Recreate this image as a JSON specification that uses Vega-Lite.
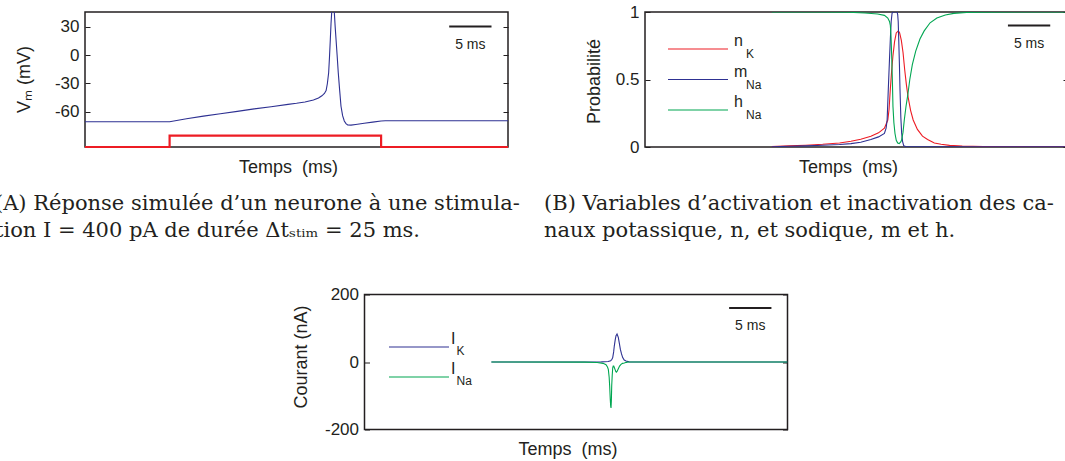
{
  "$schema": "https://vega.github.io/schema/vega-lite/v6.json",
  "padding": {"left": -6, "top": 2, "right": 0, "bottom": 0},
  "config": {
    "font": "Liberation Sans",
    "view": {"stroke": "#231F20", "strokeWidth": 1.5},
    "axis": {"grid": false, "labelColor": "#231F20", "titleColor": "#231F20", "tickColor": "#231F20", "titleFontWeight": "normal", "labelFontSize": 17, "titleFontSize": 18},
    "legend": {"labelColor": "#231F20", "padding": 0},
    "title": {"font": "DejaVu Serif", "fontSize": 21, "fontWeight": "normal", "color": "#231F20", "lineHeight": 27, "orient": "bottom", "anchor": "start", "frame": "group"}
  },
  "spacing": 42.5,
  "resolve": {"scale": {"color": "independent", "opacity": "independent"}},
  "vconcat": [
    {
      "hconcat": [
        {
          "width": 423, "height": 135,
          "title": {"text": ["(A) Réponse simulée d’un neurone à une stimula-", "tion I = 400 pA de durée Δtₛₜᵢₘ = 25 ms."], "dx": -90, "offset": 17},
          "layer": [
            {
              "layer": [
                {
                  "data": {"values": [
                    {"t": 0, "v": -70.4}, {"t": 10, "v": -70.4}, {"t": 12, "v": -67.2}, {"t": 14, "v": -64.4}, {"t": 16, "v": -61.9}, {"t": 18, "v": -59.4}, {"t": 20, "v": -56.8}, {"t": 22, "v": -54.5}, {"t": 24, "v": -52}, {"t": 25, "v": -50.9}, {"t": 26, "v": -49.6}, {"t": 27, "v": -47.5}, {"t": 27.6, "v": -45.3}, {"t": 28, "v": -43}, {"t": 28.3, "v": -40.5}, {"t": 28.5, "v": -37.5}, {"t": 28.65, "v": -30}, {"t": 28.8, "v": -18.7}, {"t": 28.9, "v": -2}, {"t": 29, "v": 17}, {"t": 29.08, "v": 33}, {"t": 29.16, "v": 45}, {"t": 29.3, "v": 52}, {"t": 29.4, "v": 50}, {"t": 29.47, "v": 45}, {"t": 29.57, "v": 30}, {"t": 29.67, "v": 17}, {"t": 29.8, "v": 0}, {"t": 29.94, "v": -19}, {"t": 30.1, "v": -37}, {"t": 30.26, "v": -54}, {"t": 30.45, "v": -64}, {"t": 30.65, "v": -69.6}, {"t": 30.85, "v": -72.3}, {"t": 31.05, "v": -73.8}, {"t": 31.44, "v": -73.9}, {"t": 32, "v": -73.2}, {"t": 33, "v": -72}, {"t": 34, "v": -70.8}, {"t": 35, "v": -69.6}, {"t": 35.5, "v": -69.3}, {"t": 50, "v": -69.3}
                  ]},
                  "mark": {"type": "line", "color": "#2E3192", "strokeWidth": 1.1, "clip": true},
                  "encoding": {
                    "x": {"field": "t", "type": "quantitative", "scale": {"domain": [0, 50], "nice": false, "zero": false}, "axis": {"title": "Temps\u00a0 (ms)", "labels": false, "ticks": false, "domain": false, "titleX": 203, "titleY": 11, "titleBaseline": "top", "minExtent": 0}},
                    "y": {"field": "v", "type": "quantitative", "scale": {"domain": [-97, 45.4], "nice": false, "zero": false}, "axis": {"values": [-60, -30, 0, 30], "title": "Vₘ (mV)", "titleX": -61, "titleY": 67, "titleBaseline": "middle", "tickSize": -5, "labelPadding": 11, "domain": false, "labelExpr": "datum.value < 0 ? '-' + abs(datum.value) : '' + datum.value"}}
                  }
                },
                {
                  "data": {"values": [{"t": 43.05, "t2": 48.05, "tm": 45.55, "v": 30, "label": "5 ms"}]},
                  "mark": {"type": "rule", "color": "#231F20", "strokeWidth": 2},
                  "encoding": {
                    "x": {"field": "t", "type": "quantitative"},
                    "x2": {"field": "t2"},
                    "y": {"field": "v", "type": "quantitative", "axis": {"orient": "right", "values": [-60, -30, 0, 30], "labels": false, "title": null, "tickSize": -5, "domain": false}}
                  }
                },
                {
                  "data": {"values": [{"t": 43.05, "t2": 48.05, "tm": 45.55, "v": 30, "label": "5 ms"}]},
                  "mark": {"type": "text", "dy": 18, "fontSize": 14, "color": "#231F20"},
                  "encoding": {
                    "x": {"field": "tm", "type": "quantitative"},
                    "y": {"field": "v", "type": "quantitative", "axis": null},
                    "text": {"field": "label"}
                  }
                }
              ],
              "resolve": {"axis": {"y": "independent"}}
            },
            {
              "data": {"values": [{"t": 0, "i": 0}, {"t": 10, "i": 0}, {"t": 10, "i": 400}, {"t": 35, "i": 400}, {"t": 35, "i": 0}, {"t": 50, "i": 0}]},
              "mark": {"type": "line", "color": "#ED1C24", "strokeWidth": 2.2},
              "encoding": {
                "x": {"field": "t", "type": "quantitative"},
                "y": {"field": "i", "type": "quantitative", "scale": {"domain": [0, 4737], "nice": false}, "axis": null},
                "order": {"value": null}
              }
            }
          ],
          "resolve": {"scale": {"y": "independent"}}
        },
        {
          "width": 423, "height": 135,
          "title": {"text": ["(B) Variables d’activation et inactivation des ca-", "naux potassique, n, et sodique, m et h."], "dx": -101, "offset": 17},
          "layer": [
            {
              "data": {"values": [
                {"t": 15, "var": "nK", "p": 0.004}, {"t": 17, "var": "nK", "p": 0.008}, {"t": 19, "var": "nK", "p": 0.013}, {"t": 21, "var": "nK", "p": 0.02}, {"t": 23, "var": "nK", "p": 0.03}, {"t": 24.35, "var": "nK", "p": 0.042}, {"t": 25.5, "var": "nK", "p": 0.058}, {"t": 26.7, "var": "nK", "p": 0.08}, {"t": 27.6, "var": "nK", "p": 0.105}, {"t": 28.3, "var": "nK", "p": 0.14}, {"t": 28.7, "var": "nK", "p": 0.2}, {"t": 28.85, "var": "nK", "p": 0.28}, {"t": 29, "var": "nK", "p": 0.43}, {"t": 29.15, "var": "nK", "p": 0.56}, {"t": 29.3, "var": "nK", "p": 0.67}, {"t": 29.5, "var": "nK", "p": 0.78}, {"t": 29.7, "var": "nK", "p": 0.845}, {"t": 29.95, "var": "nK", "p": 0.86}, {"t": 30.1, "var": "nK", "p": 0.845}, {"t": 30.3, "var": "nK", "p": 0.79}, {"t": 30.5, "var": "nK", "p": 0.7}, {"t": 30.7, "var": "nK", "p": 0.57}, {"t": 30.9, "var": "nK", "p": 0.46}, {"t": 31.1, "var": "nK", "p": 0.37}, {"t": 31.4, "var": "nK", "p": 0.27}, {"t": 31.7, "var": "nK", "p": 0.2}, {"t": 32.2, "var": "nK", "p": 0.13}, {"t": 32.8, "var": "nK", "p": 0.08}, {"t": 33.4, "var": "nK", "p": 0.055}, {"t": 34.2, "var": "nK", "p": 0.03}, {"t": 35, "var": "nK", "p": 0.02}, {"t": 36, "var": "nK", "p": 0.012}, {"t": 37.5, "var": "nK", "p": 0.007}, {"t": 40, "var": "nK", "p": 0.004}, {"t": 45, "var": "nK", "p": 0.002}, {"t": 50, "var": "nK", "p": 0.001},
                {"t": 15, "var": "mNa", "p": 0.002}, {"t": 17, "var": "mNa", "p": 0.005}, {"t": 19, "var": "mNa", "p": 0.008}, {"t": 21, "var": "mNa", "p": 0.013}, {"t": 23, "var": "mNa", "p": 0.019}, {"t": 24.35, "var": "mNa", "p": 0.025}, {"t": 25.5, "var": "mNa", "p": 0.035}, {"t": 26.7, "var": "mNa", "p": 0.055}, {"t": 27.6, "var": "mNa", "p": 0.075}, {"t": 28.3, "var": "mNa", "p": 0.1}, {"t": 28.5, "var": "mNa", "p": 0.14}, {"t": 28.62, "var": "mNa", "p": 0.2}, {"t": 28.76, "var": "mNa", "p": 0.43}, {"t": 28.9, "var": "mNa", "p": 0.65}, {"t": 29, "var": "mNa", "p": 0.8}, {"t": 29.1, "var": "mNa", "p": 0.93}, {"t": 29.2, "var": "mNa", "p": 0.99}, {"t": 29.3, "var": "mNa", "p": 1}, {"t": 29.8, "var": "mNa", "p": 1}, {"t": 29.87, "var": "mNa", "p": 0.98}, {"t": 29.93, "var": "mNa", "p": 0.93}, {"t": 29.99, "var": "mNa", "p": 0.8}, {"t": 30.07, "var": "mNa", "p": 0.62}, {"t": 30.14, "var": "mNa", "p": 0.43}, {"t": 30.24, "var": "mNa", "p": 0.22}, {"t": 30.34, "var": "mNa", "p": 0.1}, {"t": 30.45, "var": "mNa", "p": 0.04}, {"t": 30.58, "var": "mNa", "p": 0.01}, {"t": 30.8, "var": "mNa", "p": 0.003}, {"t": 31.5, "var": "mNa", "p": 0.001}, {"t": 50, "var": "mNa", "p": 0.001},
                {"t": 15, "var": "hNa", "p": 1}, {"t": 20, "var": "hNa", "p": 1}, {"t": 24, "var": "hNa", "p": 0.998}, {"t": 26, "var": "hNa", "p": 0.993}, {"t": 27.5, "var": "hNa", "p": 0.985}, {"t": 28.3, "var": "hNa", "p": 0.975}, {"t": 28.7, "var": "hNa", "p": 0.955}, {"t": 28.9, "var": "hNa", "p": 0.93}, {"t": 29, "var": "hNa", "p": 0.9}, {"t": 29.08, "var": "hNa", "p": 0.82}, {"t": 29.16, "var": "hNa", "p": 0.67}, {"t": 29.25, "var": "hNa", "p": 0.47}, {"t": 29.31, "var": "hNa", "p": 0.3}, {"t": 29.42, "var": "hNa", "p": 0.18}, {"t": 29.55, "var": "hNa", "p": 0.1}, {"t": 29.7, "var": "hNa", "p": 0.05}, {"t": 29.87, "var": "hNa", "p": 0.03}, {"t": 30.05, "var": "hNa", "p": 0.025}, {"t": 30.25, "var": "hNa", "p": 0.04}, {"t": 30.34, "var": "hNa", "p": 0.055}, {"t": 30.5, "var": "hNa", "p": 0.11}, {"t": 30.65, "var": "hNa", "p": 0.2}, {"t": 30.85, "var": "hNa", "p": 0.3}, {"t": 31.05, "var": "hNa", "p": 0.38}, {"t": 31.3, "var": "hNa", "p": 0.5}, {"t": 31.6, "var": "hNa", "p": 0.61}, {"t": 32, "var": "hNa", "p": 0.71}, {"t": 32.5, "var": "hNa", "p": 0.8}, {"t": 33, "var": "hNa", "p": 0.86}, {"t": 33.7, "var": "hNa", "p": 0.92}, {"t": 34.5, "var": "hNa", "p": 0.955}, {"t": 35.5, "var": "hNa", "p": 0.978}, {"t": 36.5, "var": "hNa", "p": 0.99}, {"t": 38, "var": "hNa", "p": 0.996}, {"t": 40, "var": "hNa", "p": 0.999}, {"t": 45, "var": "hNa", "p": 1}, {"t": 50, "var": "hNa", "p": 1}
              ]},
              "mark": {"type": "line", "strokeWidth": 1.1, "clip": true},
              "encoding": {
                "x": {"field": "t", "type": "quantitative", "scale": {"domain": [0, 50], "nice": false, "zero": false}, "axis": {"title": "Temps\u00a0 (ms)", "labels": false, "ticks": false, "domain": false, "titleX": 203, "titleY": 11, "titleBaseline": "top", "minExtent": 0}},
                "y": {"field": "p", "type": "quantitative", "scale": {"domain": [0, 1], "nice": false}, "axis": {"values": [0, 0.5, 1], "title": "Probabilité", "titleX": -51, "titleY": 69, "titleBaseline": "middle", "tickSize": -5, "labelPadding": 11, "domain": false, "labelExpr": "'' + datum.value"}},
                "color": {"field": "var", "type": "nominal", "scale": {"domain": ["nK", "mNa", "hNa"], "range": ["#ED1C24", "#2E3192", "#00A651"]}, "legend": {"orient": "none", "legendX": 22, "legendY": 29, "title": null, "symbolType": "stroke", "symbolSize": 3600, "symbolStrokeWidth": 1.2, "clipHeight": 16, "rowPadding": 6.5, "labelExpr": "substring(datum.label, 0, 1)", "labelFontSize": 16, "labelBaseline": "bottom", "labelOffset": 5}},
                "opacity": {"field": "var", "type": "nominal", "sort": ["nK", "mNa", "hNa"], "scale": {"range": [1, 1]}, "legend": {"orient": "none", "legendX": 89, "legendY": 34, "title": null, "symbolSize": 0, "symbolStrokeWidth": 0, "clipHeight": 16, "rowPadding": 14.5, "labelExpr": "datum.label == 'nK' ? 'K' : datum.label == 'mNa' ? '\u00a0Na' : 'Na'", "labelFontSize": 12, "labelBaseline": "middle", "labelOffset": 0}}
              }
            },
            {
              "data": {"values": [{"t": 42.9, "t2": 47.9, "tm": 45.4, "p": 0.9, "label": "5 ms"}]},
              "mark": {"type": "rule", "color": "#231F20", "strokeWidth": 2},
              "encoding": {
                "x": {"field": "t", "type": "quantitative"},
                "x2": {"field": "t2"},
                "y": {"field": "p", "type": "quantitative", "axis": {"orient": "right", "values": [0, 0.5, 1], "labels": false, "title": null, "tickSize": -5, "domain": false}}
              }
            },
            {
              "data": {"values": [{"t": 42.9, "t2": 47.9, "tm": 45.4, "p": 0.9, "label": "5 ms"}]},
              "mark": {"type": "text", "dy": 18, "fontSize": 14, "color": "#231F20"},
              "encoding": {
                "x": {"field": "tm", "type": "quantitative"},
                "y": {"field": "p", "type": "quantitative", "axis": null},
                "text": {"field": "label"}
              }
            }
          ],
          "resolve": {"axis": {"y": "independent"}}
        }
      ],
      "spacing": 137,
      "bounds": "flush",
      "resolve": {"scale": {"color": "independent", "opacity": "independent"}}
    },
    {
      "hconcat": [
        {
          "width": 200, "height": 10,
          "view": {"stroke": "transparent"},
          "data": {"values": []},
          "mark": "point"
        },
        {
          "width": 423, "height": 135,
          "layer": [
            {
              "data": {"values": [
                {"t": 15, "var": "IK", "i": 0}, {"t": 26, "var": "IK", "i": 0}, {"t": 28, "var": "IK", "i": 0.5}, {"t": 28.8, "var": "IK", "i": 1.5}, {"t": 29.1, "var": "IK", "i": 4}, {"t": 29.25, "var": "IK", "i": 8}, {"t": 29.34, "var": "IK", "i": 13}, {"t": 29.45, "var": "IK", "i": 30}, {"t": 29.53, "var": "IK", "i": 48}, {"t": 29.63, "var": "IK", "i": 65}, {"t": 29.73, "var": "IK", "i": 78}, {"t": 29.85, "var": "IK", "i": 83}, {"t": 30, "var": "IK", "i": 73}, {"t": 30.12, "var": "IK", "i": 56}, {"t": 30.24, "var": "IK", "i": 38}, {"t": 30.38, "var": "IK", "i": 24}, {"t": 30.52, "var": "IK", "i": 13}, {"t": 30.7, "var": "IK", "i": 6}, {"t": 30.91, "var": "IK", "i": 3}, {"t": 31.27, "var": "IK", "i": 0.5}, {"t": 32, "var": "IK", "i": 0}, {"t": 50, "var": "IK", "i": 0},
                {"t": 15, "var": "INa", "i": 0}, {"t": 26, "var": "INa", "i": -0.5}, {"t": 27.5, "var": "INa", "i": -1.5}, {"t": 28.2, "var": "INa", "i": -4}, {"t": 28.55, "var": "INa", "i": -8}, {"t": 28.72, "var": "INa", "i": -15}, {"t": 28.82, "var": "INa", "i": -22}, {"t": 28.92, "var": "INa", "i": -45}, {"t": 28.98, "var": "INa", "i": -71}, {"t": 29.05, "var": "INa", "i": -110}, {"t": 29.1, "var": "INa", "i": -131}, {"t": 29.14, "var": "INa", "i": -136}, {"t": 29.18, "var": "INa", "i": -115}, {"t": 29.22, "var": "INa", "i": -71}, {"t": 29.28, "var": "INa", "i": -40}, {"t": 29.34, "var": "INa", "i": -17}, {"t": 29.4, "var": "INa", "i": -12}, {"t": 29.46, "var": "INa", "i": -12}, {"t": 29.54, "var": "INa", "i": -17}, {"t": 29.61, "var": "INa", "i": -22}, {"t": 29.7, "var": "INa", "i": -28}, {"t": 29.77, "var": "INa", "i": -30}, {"t": 29.85, "var": "INa", "i": -28}, {"t": 30, "var": "INa", "i": -20}, {"t": 30.15, "var": "INa", "i": -12}, {"t": 30.32, "var": "INa", "i": -7}, {"t": 30.5, "var": "INa", "i": -4}, {"t": 30.71, "var": "INa", "i": -3}, {"t": 30.95, "var": "INa", "i": -1}, {"t": 31.2, "var": "INa", "i": 0}, {"t": 50, "var": "INa", "i": 0}
              ]},
              "mark": {"type": "line", "strokeWidth": 1.1, "clip": true},
              "encoding": {
                "x": {"field": "t", "type": "quantitative", "scale": {"domain": [0, 50], "nice": false, "zero": false}, "axis": {"title": "Temps\u00a0 (ms)", "labels": false, "ticks": false, "domain": false, "titleX": 203, "titleY": 11, "titleBaseline": "top", "minExtent": 0}},
                "y": {"field": "i", "type": "quantitative", "scale": {"domain": [-200, 200], "nice": false}, "axis": {"values": [-200, 0, 200], "title": "Courant (nA)", "titleX": -63.5, "titleY": 62, "titleBaseline": "middle", "tickSize": -5, "labelPadding": 11, "domain": false, "labelExpr": "datum.value < 0 ? '-' + abs(datum.value) : '' + datum.value"}},
                "color": {"field": "var", "type": "nominal", "scale": {"domain": ["IK", "INa"], "range": ["#2E3192", "#00A651"]}, "legend": {"orient": "none", "legendX": 23.5, "legendY": 44.5, "title": null, "symbolType": "stroke", "symbolSize": 3600, "symbolStrokeWidth": 1.2, "clipHeight": 16, "rowPadding": 6, "labelExpr": "'I'", "labelFontSize": 16, "labelBaseline": "bottom", "labelOffset": 1}},
                "opacity": {"field": "var", "type": "nominal", "sort": ["IK", "INa"], "scale": {"range": [1, 1]}, "legend": {"orient": "none", "legendX": 80, "legendY": 48.5, "title": null, "symbolSize": 0, "symbolStrokeWidth": 0, "clipHeight": 16, "rowPadding": 14, "labelExpr": "datum.label == 'IK' ? 'K' : 'Na'", "labelFontSize": 12, "labelBaseline": "middle", "labelOffset": 0}}
              }
            },
            {
              "data": {"values": [{"t": 43.1, "t2": 48.1, "tm": 45.6, "i": 160, "label": "5 ms"}]},
              "mark": {"type": "rule", "color": "#231F20", "strokeWidth": 2},
              "encoding": {
                "x": {"field": "t", "type": "quantitative"},
                "x2": {"field": "t2"},
                "y": {"field": "i", "type": "quantitative", "axis": {"orient": "right", "values": [-200, 0, 200], "labels": false, "title": null, "tickSize": -5, "domain": false}}
              }
            },
            {
              "data": {"values": [{"t": 43.1, "t2": 48.1, "tm": 45.6, "i": 160, "label": "5 ms"}]},
              "mark": {"type": "text", "dy": 18, "fontSize": 14, "color": "#231F20"},
              "encoding": {
                "x": {"field": "tm", "type": "quantitative"},
                "y": {"field": "i", "type": "quantitative", "axis": null},
                "text": {"field": "label"}
              }
            }
          ],
          "resolve": {"axis": {"y": "independent"}}
        }
      ],
      "spacing": 79.5,
      "bounds": "flush",
      "resolve": {"scale": {"color": "independent", "opacity": "independent"}}
    }
  ]
}
